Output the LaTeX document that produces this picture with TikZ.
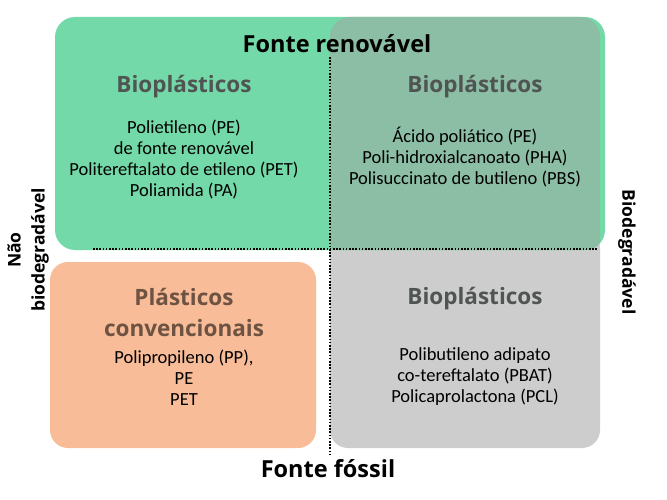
\documentclass[tikz,border=0pt]{standalone}
\usepackage{fontspec}
\setmainfont{Carlito}
\newfontfamily\headfont{Open Sans}
\definecolor{cgreen}{RGB}{116,217,168}
\definecolor{cmix}{RGB}{140,190,165}
\definecolor{cgrey}{RGB}{205,205,205}
\definecolor{corange}{RGB}{248,188,152}
\definecolor{ctitle}{RGB}{80,84,82}
\definecolor{cbrown}{RGB}{110,82,66}
\begin{document}
\begin{tikzpicture}[x=1pt,y=-1pt,
  body/.style={font=\fontsize{18.5}{21}\selectfont, align=center, inner sep=0pt},
  ttl/.style={font=\headfont\bfseries\fontsize{22.5}{31}\selectfont, text=ctitle, align=center, inner sep=0pt},
  axis/.style={font=\headfont\bfseries\fontsize{23.5}{26}\selectfont, inner sep=0pt},
  side/.style={font=\headfont\bfseries\fontsize{17.5}{24}\selectfont, inner sep=0pt, align=center},
  dots/.style={line width=1.6pt, dash pattern=on 1.6pt off 1.6pt}]
\useasboundingbox (0,0) rectangle (667,500);
% boxes
\fill[cgrey, rounded corners=18] (330,230) rectangle (600,448);
\fill[cgreen, rounded corners=20] (55,17) rectangle (605,250);
\begin{scope}
  \clip[rounded corners=20] (55,17) rectangle (605,250);
  \fill[cmix, rounded corners=20] (330,17) rectangle (600,260);
\end{scope}
\fill[corange, rounded corners=18] (50,262) rectangle (316,448);
% dotted axes
\coordinate (vt) at (330,57);
\coordinate (vb) at (330,456);
\coordinate (hl) at (93,249);
\coordinate (hr) at (598,249);
\draw[dots] (vt) -- (vb);
\draw[dots] (hl) -- (hr);
% axis labels
\node[axis] (ren) at (337,44) {Fonte renovável};
\node[axis] (fos) at (328,469) {Fonte fóssil};
\node[side, rotate=90] (nbio) at (28,250) {Não\\biodegradável};
\node[side, rotate=-90] (bio) at (627,252) {Biodegradável};
% top-left
\node[ttl] (t1) at (184,87) {Bioplásticos};
\node[body] (b1) at (184,160) {Polietileno (PE)\\de fonte renovável\\Politereftalato de etileno (PET)\\Poliamida (PA)};
% top-right
\node[ttl] (t2) at (475,87) {Bioplásticos};
\node[body] (b2) at (465,157) {Ácido poliático (PE)\\Poli-hidroxialcanoato (PHA)\\Polisuccinato de butileno (PBS)};
% bottom-left
\node[ttl, text=cbrown] (t3) at (184,312) {Plásticos\\convencionais};
\node[body] (b3) at (184,378) {Polipropileno (PP),\\PE\\PET};
% bottom-right
\node[ttl] (t4) at (475,299) {Bioplásticos};
\node[body] (b4) at (475,377) {Polibutileno adipato\\co-tereftalato (PBAT)\\Policaprolactona (PCL)};
\end{tikzpicture}
\end{document}
